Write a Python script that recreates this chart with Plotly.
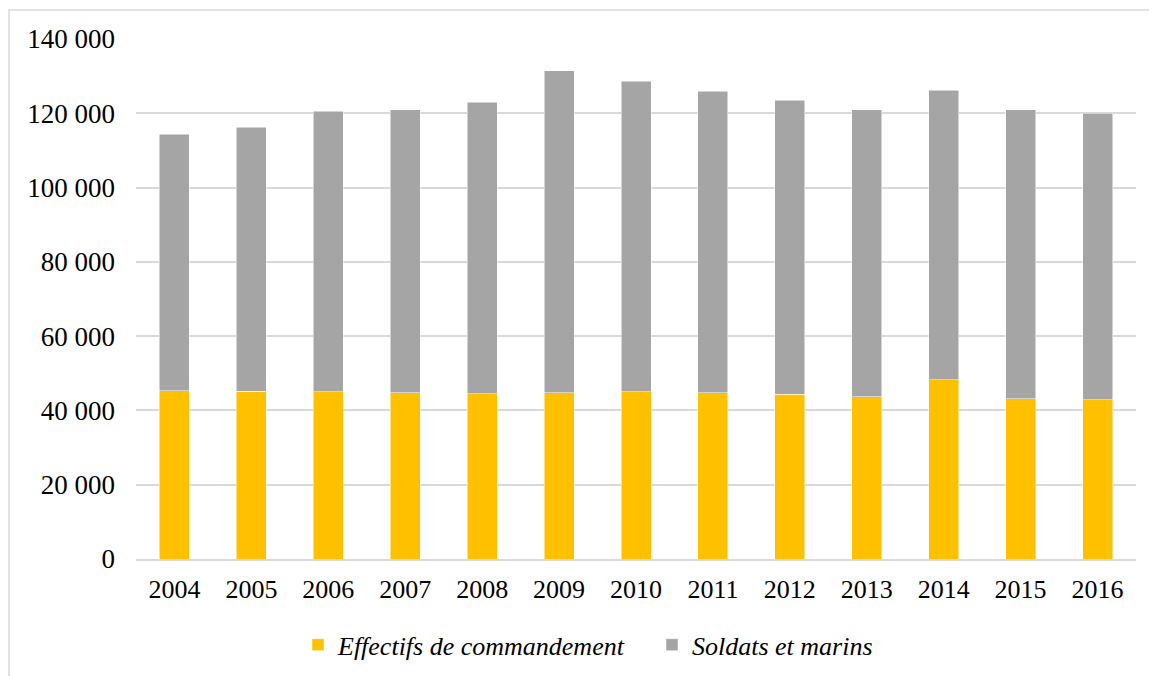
import plotly.graph_objects as go

years = ["2004", "2005", "2006", "2007", "2008", "2009", "2010",
         "2011", "2012", "2013", "2014", "2015", "2016"]
totals = [114400, 116200, 120600, 120900, 123000, 131400, 128600,
          126000, 123500, 120900, 126200, 120900, 120000]
commandement = [45300, 45200, 45050, 44800, 44500, 44800, 45000,
                44800, 44400, 43700, 48300, 43200, 42900]
soldats = [t - c for t, c in zip(totals, commandement)]

y_ticks = [0, 20000, 40000, 60000, 80000, 100000, 120000, 140000]

font_family = "Liberation Serif"

fig = go.Figure()
fig.add_trace(go.Bar(
    x=years, y=commandement, name="Effectifs de commandement",
    marker=dict(color="#FFC000", line=dict(color="#FFFFFF", width=0.5)),
))
fig.add_trace(go.Bar(
    x=years, y=soldats, name="Soldats et marins",
    marker=dict(color="#A5A5A5", line=dict(color="#FFFFFF", width=0.5)),
))

fig.update_layout(
    barmode="stack",
    bargap=0.61,
    width=1157, height=676,
    margin=dict(l=128, r=29, t=31, b=125),
    paper_bgcolor="white",
    plot_bgcolor="white",
    separators=", ",
    font=dict(family=font_family, size=26, color="#000000"),
    showlegend=True,
    legend=dict(
        orientation="h",
        x=0.162, xanchor="left",
        y=-0.165, yanchor="middle",
        font=dict(family=font_family, size=26, style="italic"),
        itemwidth=30,
        entrywidth=309,
        traceorder="normal",
    ),
    shapes=[dict(
        type="rect", xref="paper", yref="paper",
        x0=-0.127, x1=1.06, y0=-0.4, y1=1.0558,
        line=dict(color="#D9D9D9", width=1.5),
        fillcolor="rgba(0,0,0,0)", layer="below",
    )],
)

fig.update_xaxes(
    showgrid=False,
    showline=True, linecolor="#D9D9D9", linewidth=1.5,
    ticks="", ticklabelstandoff=6,
    tickfont=dict(family=font_family, size=26),
)
fig.update_yaxes(
    range=[0, 140000],
    tickvals=y_ticks,
    tickformat=",d",
    showgrid=True, gridcolor="#D9D9D9", gridwidth=1.5,
    zeroline=False, showline=False,
    ticks="", ticklabelstandoff=20,
    tickfont=dict(family=font_family, size=27),
)

fig.write_html("out.html")
